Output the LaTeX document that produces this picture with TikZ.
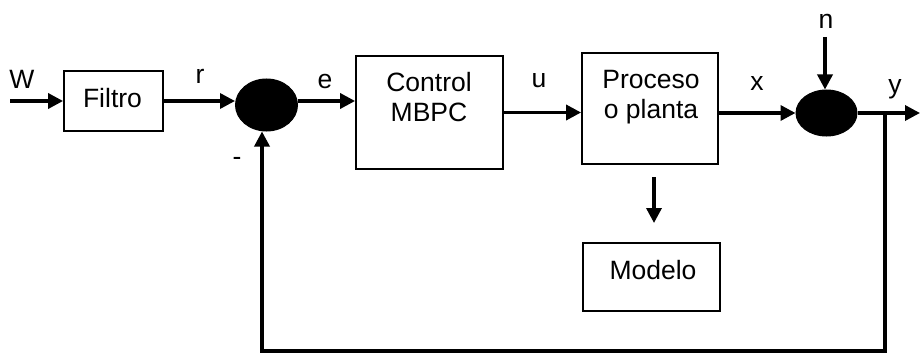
\documentclass[tikz,border=0pt]{standalone}
\usepackage{fontspec}
\setmainfont{Liberation Sans}
\usetikzlibrary{arrows.meta,shapes.geometric}
\begin{document}
\begin{tikzpicture}[x=1pt,y=-1pt,
  every node/.style={font=\fontsize{26.5}{29.5}\selectfont, inner sep=0pt},
  blockbox/.style={draw, line width=1.8pt, rectangle},
  sumnode/.style={draw, fill=black, ellipse, line width=1pt},
  sig/.style={line width=3.4pt, -{Triangle[length=15pt,width=15pt]}},
  lbl/.style={anchor=center, align=center}]
\useasboundingbox (0,0) rectangle (921,353);

% blocks
\node[blockbox, minimum width=99pt, minimum height=60pt] (filtro) at (113.5,101) {};
\node[lbl] (tfiltro) at (112.5,98) {Filtro};
\node[blockbox, minimum width=147pt, minimum height=113pt] (control) at (429.5,112.5) {};
\node[lbl] (tcontrol) at (429,97) {Control\\MBPC};
\node[blockbox, minimum width=136pt, minimum height=111pt] (proceso) at (650,108.5) {};
\node[lbl] (tproc) at (651,97) {Proceso\\o planta};
\node[blockbox, minimum width=137pt, minimum height=68pt] (modelo) at (651.5,277) {};
\node[lbl] (tmodelo) at (653,270) {Modelo};

% summing junctions
\node[sumnode, minimum width=62pt, minimum height=52pt] (sum1) at (266.5,105) {};
\node[sumnode, minimum width=61pt, minimum height=46pt] (sum2) at (826.5,113) {};

% signal labels
\node[lbl] (lw) at (22,79) {W};
\node[lbl] (lr) at (200,76) {r};
\node[lbl] (le) at (325,81) {e};
\node[lbl] (lu) at (539,81) {u};
\node[lbl] (lx) at (757,83) {x};
\node[lbl] (ln) at (826,21) {n};
\node[lbl] (ly) at (895,89) {y};
\node[lbl] (lminus) at (237,161) {-};

% free ends of connectors
\coordinate (win) at (10,101);
\coordinate (nin) at (825,37);
\coordinate (yout) at (920,113);
\coordinate (tap) at (885,113);
\coordinate (fbl) at (262,351);
\coordinate (mtop) at (654,177);
\coordinate (mbot) at (654,223);

% connectors
\draw[sig] (win) -- (filtro.west);
\draw[sig] (filtro.east) -- (filtro.east -| sum1.west);
\draw[sig] (sum1.east |- filtro.east) -- (control.west |- filtro.east);
\draw[sig] (control.east) -- (control.east -| proceso.west);
\draw[sig] (proceso.east |- sum2.west) -- (sum2.west);
\draw[sig] (nin) -- (nin |- sum2.north);
\draw[sig] (sum2.east) -- (yout);
\draw[sig] (tap) |- (fbl) -- (fbl |- sum1.south);
\draw[sig] (mtop) -- (mbot);
\end{tikzpicture}
\end{document}
